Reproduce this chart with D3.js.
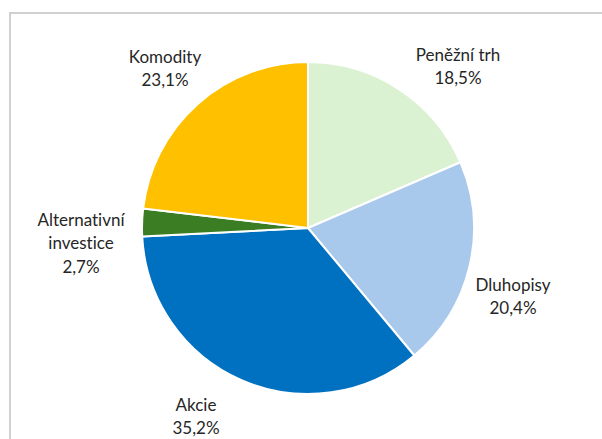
<!DOCTYPE html>
<html>
<head>
<meta charset="utf-8">
<script src="https://cdn.jsdelivr.net/npm/d3@7"></script>
<style>
    html, body { margin: 0; padding: 0; background: #fff; }
    svg { display: block; }
    text { font-variant-ligatures: none; font-feature-settings: "liga" 0; }
</style>
</head>
<body>
<svg id="chart" width="602" height="439"></svg>
<script>
const categories = ["Peněžní trh", "Dluhopisy", "Akcie", "Alternativní investice", "Komodity"];
const shares = [18.5, 20.4, 35.2, 2.7, 23.1];
const colors = ["#dbf2d2", "#a8c9ec", "#0070c0", "#3b7d23", "#ffc000"];
// label lines (category split over rows) and anchor points
const labelLines = [["Peněžní trh"], ["Dluhopisy"], ["Akcie"], ["Alternativní", "investice"], ["Komodity"]];
const labelPos = [[458, 55], [513, 285], [196, 405], [81, 220], [165, 57]];

const width = 602, height = 439;
const cx = 308, cy = 228, radius = 166;

const svg = d3.select("#chart");

// chart frame (only top and left edges fall inside the window)
svg.append("rect")
    .attr("x", 10)
    .attr("y", 13)
    .attr("width", width + 20)
    .attr("height", height + 20)
    .attr("fill", "none")
    .attr("stroke", "#d0d0d0")
    .attr("stroke-width", 2);

const data = categories.map((c, i) => ({ name: c, value: shares[i], color: colors[i], lines: labelLines[i], pos: labelPos[i] }));

const pie = d3.pie()
    .value(d => d.value)
    .sort(null);

const arc = d3.arc()
    .innerRadius(0)
    .outerRadius(radius);

const g = svg.append("g")
    .attr("transform", `translate(${cx},${cy})`);

g.selectAll("path.slice")
    .data(pie(data))
    .join("path")
    .attr("class", "slice")
    .attr("d", arc)
    .attr("fill", d => d.data.color)
    .attr("stroke", "#fff")
    .attr("stroke-width", 2)
    .attr("stroke-linejoin", "round");

const fmt = v => d3.format(".1f")(v).replace(".", ",") + "%";

const labels = svg.selectAll("text.label")
    .data(data)
    .join("text")
    .attr("class", "label")
    .attr("text-anchor", "middle")
    .attr("font-family", "Lato, 'Open Sans', sans-serif")
    .attr("font-size", 17)
    .attr("fill", "#262626");

labels.each((d, i, nodes) => {
    const t = d3.select(nodes[i]);
    const rows = d.lines.concat([fmt(d.value)]);
    rows.forEach((r, k) => {
        t.append("tspan")
            .attr("x", d.pos[0])
            .attr("y", d.pos[1] + k * 23.5)
            .attr("dy", "0.35em")
            .text(r);
    });
});
</script>
</body>
</html>
